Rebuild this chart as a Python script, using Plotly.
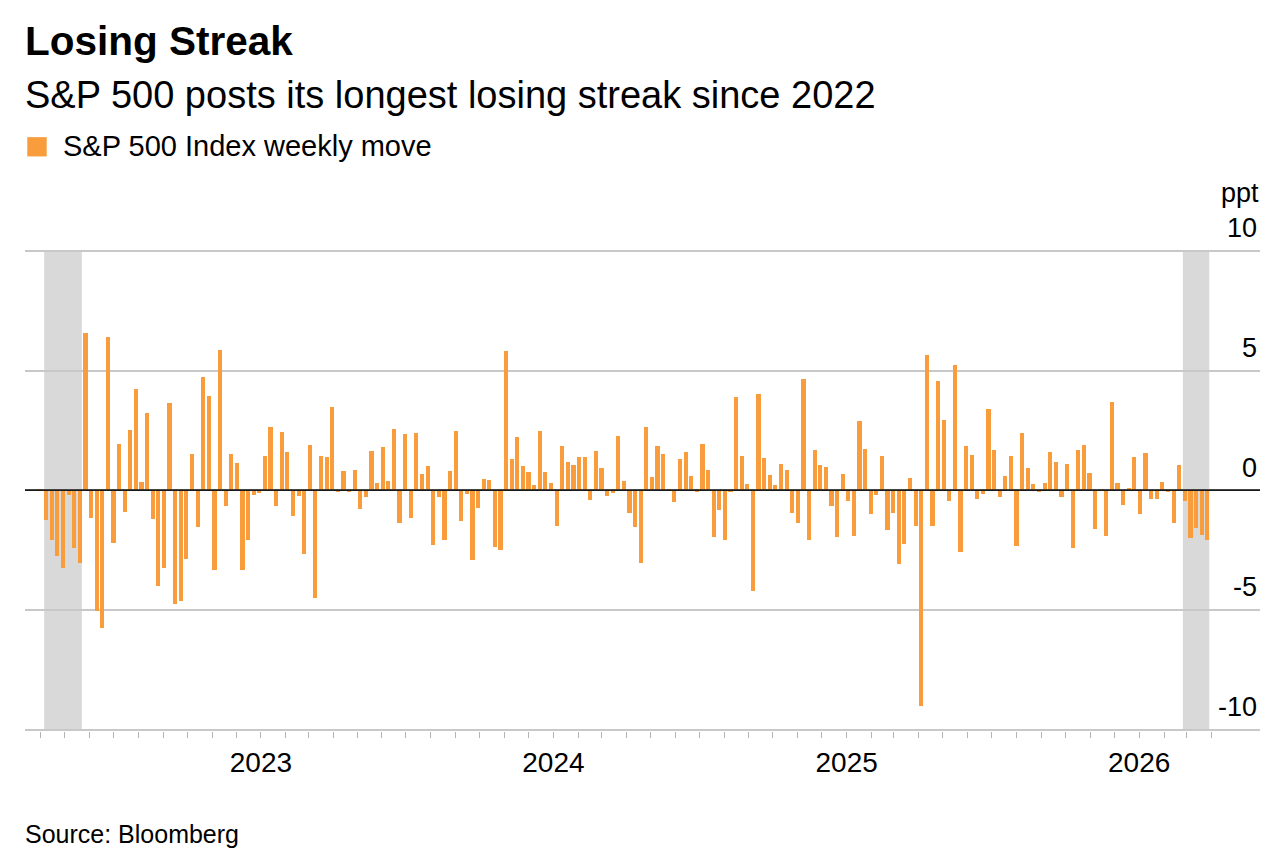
import pandas as pd
import plotly.graph_objects as go

# ---------------- data ----------------
start_week = "2022-04-01"
weekly_move = [
    # 2022
    0.06, -1.26, -2.10, -2.73, -3.25, -0.19, -2.40, -3.02, 6.55, -1.18,
    -5.04, -5.76, 6.41, -2.20, 1.93, -0.91, 2.53, 4.24, 0.35, 3.24,
    -1.20, -4.02, -3.27, 3.63, -4.74, -4.63, -2.89, 1.50, -1.55, 4.71,
    3.92, -3.32, 5.86, -0.68, 1.52, 1.12, -3.35, -2.08, -0.18, -0.12,
    # 2023
    1.43, 2.65, -0.65, 2.44, 1.61, -1.09, -0.26, -2.66, 1.88, -4.52,
    1.41, 1.39, 3.46, -0.08, 0.79, -0.08, 0.86, -0.78, -0.28, 1.63,
    0.32, 1.81, 0.37, 2.56, -1.39, 2.33, -1.15, 2.40, 0.68, 1.01,
    -2.27, -0.30, -2.10, 0.82, 2.48, -1.29, -0.17, -2.91, -0.75, 0.46,
    0.43, -2.38, -2.51, 5.83, 1.30, 2.22, 1.00, 0.76, 0.21, 2.48,
    0.75, 0.30,
    # 2024
    -1.51, 1.83, 1.16, 1.05, 1.39, 1.37, -0.40, 1.65, 0.94, -0.25,
    -0.12, 2.27, 0.37, -0.94, -1.54, -3.03, 2.65, 0.54, 1.83, 1.52,
    0.03, -0.51, 1.30, 1.58, 0.60, -0.08, 1.94, 0.84, -1.97, -0.83,
    -2.06, -0.04, 3.90, 1.43, 0.24, -4.22, 4.00, 1.34, 0.62, 0.22,
    1.09, 0.84, -0.96, -1.36, 4.63, -2.08, 1.66, 1.04, 0.96, -0.64,
    -1.97, 0.66,
    # 2025
    -0.47, -1.93, 2.88, 1.73, -0.98, -0.22, 1.45, -1.65, -0.96, -3.07,
    -2.26, 0.50, -1.51, -9.03, 5.66, -1.50, 4.57, 2.92, -0.46, 5.25,
    -2.59, 1.86, 1.48, -0.37, -0.14, 3.41, 1.70, -0.29, 0.58, 1.45,
    -2.34, 2.41, 0.93, 0.26, -0.08, 0.32, 1.58, 1.20, -0.29, 1.08,
    -2.41, 1.69, 1.90, 0.71, -1.61, 0.07, -1.93, 3.70, 0.30, -0.62,
    0.08, 1.39,
    # 2026
    -1.01, 1.55, -0.37, -0.35, 0.33, -0.08, -1.37, 1.05, -0.43, -2.01,
    -1.59, -1.88, -2.09,
]
week_dates = pd.date_range(start=start_week, periods=len(weekly_move), freq="W-FRI")

streak_starts = ["2022-04-08", "2026-02-27"]
streak_ends = ["2022-05-20", "2026-03-27"]

year_ticks = ["2023-01-01", "2024-01-01", "2025-01-01", "2026-01-01"]
year_labels = ["2023", "2024", "2025", "2026"]
y_ticks = [-10, -5, 0, 5, 10]
y_labels = ["-10", "-5", "0", "5", "10"]

# ---------------- layout helpers ----------------
W, H = 1284, 852
Y_MIN, Y_MAX = -10.06, 12       # headroom so the -10 and 10 labels/lines show
PX_PER_UNIT = 23.95
ZERO_PX = 490.0
T = ZERO_PX - Y_MAX * PX_PER_UNIT
B = H - (ZERO_PX - Y_MIN * PX_PER_UNIT)
L, R = 25, 24
FONT = "Liberation Sans, Arial, Helvetica, sans-serif"
ORANGE = "#F89C3C"
DAY_MS = 86400000


def px(x):
    return (x - L) / (W - L - R)


def py(y):
    return (H - B - y) / (H - T - B)


fig = go.Figure()
fig.add_trace(
    go.Bar(
        x=week_dates,
        y=weekly_move,
        width=5.2 * DAY_MS,
        marker=dict(color=ORANGE, line=dict(width=0)),
        name="S&P 500 Index weekly move",
        showlegend=False,
        hovertemplate="%{x|%b %d, %Y}: %{y:.2f}%<extra></extra>",
    )
)

shapes = []
for s, e in zip(streak_starts, streak_ends):
    x0 = pd.Timestamp(s) - pd.Timedelta(hours=60)
    x1 = pd.Timestamp(e) + pd.Timedelta(hours=60)
    shapes.append(
        dict(type="rect", xref="x", yref="y", x0=x0, x1=x1, y0=-10, y1=10,
             fillcolor="#d9d9d9", line=dict(width=0), layer="below")
    )
# zero line on top of bars
shapes.append(
    dict(type="line", xref="paper", yref="y", x0=0, x1=1, y0=0, y1=0,
         line=dict(color="#1a1a1a", width=1.8), layer="above")
)
# legend swatch
shapes.append(
    dict(type="rect", xref="paper", yref="paper",
         x0=px(27.3), x1=px(46.7), y0=py(156), y1=py(136.7),
         fillcolor=ORANGE, line=dict(width=0), layer="above")
)

annotations = [
    dict(text="<b>Losing Streak</b>", x=px(23), y=py(40.5), xanchor="left", yanchor="middle",
         font=dict(size=40.5, color="#000000", family=FONT)),
    dict(text="S&P 500 posts its longest losing streak since 2022", x=px(23), y=py(95),
         xanchor="left", yanchor="middle", font=dict(size=38, color="#000000", family=FONT)),
    dict(text="S&P 500 Index weekly move", x=px(61), y=py(146), xanchor="left", yanchor="middle",
         font=dict(size=29, color="#000000", family=FONT)),
    dict(text="ppt", x=px(1261), y=py(193), xanchor="right", yanchor="middle",
         font=dict(size=27, color="#000000", family=FONT)),
    dict(text="Source: Bloomberg", x=px(23), y=py(834), xanchor="left", yanchor="middle",
         font=dict(size=25, color="#000000", family=FONT)),
]
for a in annotations:
    a.update(xref="paper", yref="paper", showarrow=False)

fig.update_layout(
    width=W, height=H,
    margin=dict(l=L, r=R, t=T, b=B, pad=0),
    paper_bgcolor="white", plot_bgcolor="white",
    font=dict(family=FONT, color="#000000"),
    bargap=0,
    shapes=shapes,
    annotations=annotations,
    showlegend=False,
    xaxis=dict(
        type="date",
        range=["2022-03-12 14:00", "2026-05-31 19:00"],
        showgrid=False, zeroline=False, showline=False,
        tickmode="array", tickvals=year_ticks, ticktext=year_labels,
        ticks="outside", ticklen=6, tickwidth=1.2, tickcolor="#b3b3b3",
        ticklabelstandoff=0,
        tickfont=dict(size=28, color="#000000", family=FONT),
        minor=dict(tickmode="linear", tick0="2022-04-01", dtick="M1",
                   ticks="outside", ticklen=6, tickwidth=1.2, tickcolor="#b3b3b3"),
        fixedrange=True,
    ),
    yaxis=dict(
        range=[Y_MIN, Y_MAX],
        side="right",
        tickmode="array", tickvals=y_ticks, ticktext=y_labels,
        ticklabelposition="inside top",
        ticklabelshift=-4,
        ticks="",
        showgrid=True, gridcolor="#c8c8c8", gridwidth=1.5,
        zeroline=False, showline=False,
        tickfont=dict(size=27, color="#000000", family=FONT),
        fixedrange=True,
    ),
)

fig.write_html("out.html")
